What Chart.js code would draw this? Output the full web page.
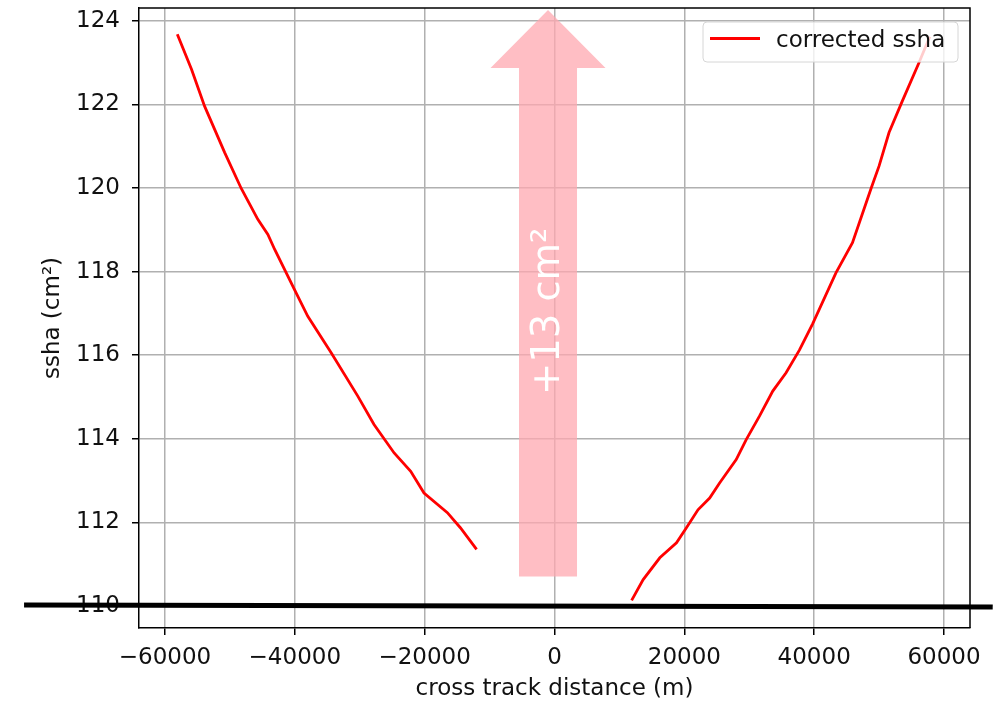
<!DOCTYPE html>
<html>
<head>
<meta charset="utf-8">
<title>corrected ssha</title>
<script src="https://cdn.jsdelivr.net/npm/chart.js@4"></script>
<style>
  html, body { margin: 0; padding: 0; background: #fff; }
  canvas { display: block; }
</style>
</head>
<body>
<canvas id="sshaChart" width="994" height="703"></canvas>
<script>
// left swath (negative cross track distance)
const leftDist = [-58100, -55900, -53900, -50800, -48250, -45700, -44150, -43100, -39800, -38000,
                  -34400, -30300, -27800, -24700, -22150, -20100, -16500, -14500, -12000];
const leftSsha = [123.68, 122.84, 121.96, 120.85, 119.99, 119.25, 118.89, 118.53, 117.49, 116.93,
                  116.06, 115.02, 114.34, 113.66, 113.22, 112.70, 112.23, 111.87, 111.35];

// right swath
const rightDist = [11880, 13660, 16220, 18790, 20320, 22100, 23900, 25430, 27990, 29530, 31570, 33620,
                   35670, 37720, 39760, 43350, 45900, 48720, 50000, 51530, 53570, 56140, 57800];
const rightSsha = [110.13, 110.63, 111.15, 111.51, 111.87, 112.30, 112.58, 112.94, 113.50, 113.98, 114.54, 115.14,
                   115.58, 116.12, 116.75, 117.97, 118.69, 119.97, 120.53, 121.33, 122.08, 123.00, 123.62];

const xTicks = [-60000, -40000, -20000, 0, 20000, 40000, 60000];
const yTicks = [110, 112, 114, 116, 118, 120, 122, 124];

// offset marker: arrow from the lowest value up to the highest one
const offsetX = -1000;
const offsetFrom = 110.7;
const offsetTo = 124.26;
const offsetText = '+13 cm²';
const offsetTextY = 117.05;

// reference level line (drawn across the whole figure)
const refLine = [{ x: -81700, y: 110.02 }, { x: 67500, y: 109.97 }];

const seriesLabel = 'corrected ssha';

const toPoints = (xs, ys) => xs.map((v, i) => ({ x: v, y: ys[i] }));

const FONT = 'DejaVu Sans';
const TEXT = '#111';

const overlay = {
    id: 'overlay',
    afterDatasetsDraw(chart) {
        const { ctx, chartArea: a, scales: { x, y } } = chart;

        // top and right spines
        ctx.save();
        ctx.strokeStyle = '#000';
        ctx.lineWidth = 1.5;
        ctx.beginPath();
        ctx.moveTo(a.left, a.top);
        ctx.lineTo(a.right, a.top);
        ctx.lineTo(a.right, a.bottom);
        ctx.stroke();
        ctx.restore();

        // pink arrow
        const cx = x.getPixelForValue(offsetX);
        const tipY = y.getPixelForValue(offsetTo);
        const baseY = y.getPixelForValue(offsetFrom);
        const shaft = 29, head = 57.5, headLen = 58;
        ctx.save();
        ctx.fillStyle = 'rgba(255, 168, 176, 0.75)';
        ctx.beginPath();
        ctx.moveTo(cx - shaft, baseY);
        ctx.lineTo(cx - shaft, tipY + headLen);
        ctx.lineTo(cx - head, tipY + headLen);
        ctx.lineTo(cx, tipY);
        ctx.lineTo(cx + head, tipY + headLen);
        ctx.lineTo(cx + shaft, tipY + headLen);
        ctx.lineTo(cx + shaft, baseY);
        ctx.closePath();
        ctx.fill();

        ctx.translate(cx + 1, y.getPixelForValue(offsetTextY));
        ctx.rotate(-Math.PI / 2);
        ctx.font = '38.5px "' + FONT + '"';
        ctx.fillStyle = '#fff';
        ctx.textAlign = 'center';
        ctx.textBaseline = 'middle';
        ctx.fillText(offsetText, 0, 0);
        ctx.restore();

        // legend box, upper right
        const bw = 255, bh = 40;
        const bx = a.right - 12 - bw, by = a.top + 14;
        ctx.save();
        ctx.beginPath();
        ctx.roundRect(bx, by, bw, bh, 4);
        ctx.fillStyle = 'rgba(255, 255, 255, 0.8)';
        ctx.fill();
        ctx.strokeStyle = '#d6d6d6';
        ctx.lineWidth = 1;
        ctx.stroke();
        ctx.strokeStyle = '#ff0000';
        ctx.lineWidth = 2.8;
        ctx.beginPath();
        ctx.moveTo(bx + 7, by + 16.5);
        ctx.lineTo(bx + 57, by + 16.5);
        ctx.stroke();
        ctx.fillStyle = TEXT;
        ctx.font = '23px "' + FONT + '"';
        ctx.textBaseline = 'alphabetic';
        ctx.fillText(seriesLabel, bx + 73, by + 24.5);
        ctx.restore();
    },
    afterDraw(chart) {
        const { ctx, scales: { x, y } } = chart;
        ctx.save();
        ctx.strokeStyle = '#000';
        ctx.lineWidth = 5;
        ctx.beginPath();
        ctx.moveTo(x.getPixelForValue(refLine[0].x), y.getPixelForValue(refLine[0].y));
        ctx.lineTo(x.getPixelForValue(refLine[1].x), y.getPixelForValue(refLine[1].y));
        ctx.stroke();
        ctx.restore();
    }
};

const lineStyle = {
    borderColor: '#ff0000',
    backgroundColor: '#ff0000',
    borderWidth: 2.8,
    pointRadius: 0,
    showLine: true,
    tension: 0
};

new Chart(document.getElementById('sshaChart'), {
    type: 'scatter',
    data: {
        datasets: [
            Object.assign({ label: seriesLabel, data: toPoints(leftDist, leftSsha) }, lineStyle),
            Object.assign({ label: seriesLabel, data: toPoints(rightDist, rightSsha) }, lineStyle)
        ]
    },
    options: {
        responsive: false,
        animation: false,
        layout: { padding: { top: 8, right: 24, left: 0, bottom: 0 } },
        plugins: { legend: { display: false }, tooltip: { enabled: false } },
        scales: {
            x: {
                type: 'linear',
                min: -64000,
                max: 64000,
                afterBuildTicks: s => { s.ticks = xTicks.map(v => ({ value: v })); },
                afterFit: s => { s.height = 75; s.paddingLeft = 0; s.paddingRight = 0; },
                grid: { color: '#b0b0b0', lineWidth: 1.5, tickColor: '#000', tickLength: 7 },
                border: { color: '#000', width: 1.5 },
                ticks: {
                    padding: 9,
                    color: TEXT,
                    font: { family: FONT, size: 23 },
                    callback: v => (v < 0 ? '\u2212' + Math.abs(v) : String(v))
                },
                title: {
                    display: true,
                    text: 'cross track distance (m)',
                    color: TEXT,
                    font: { family: FONT, size: 23 },
                    padding: { top: 0, bottom: 0 }
                }
            },
            y: {
                type: 'linear',
                min: 109.47,
                max: 124.31,
                afterBuildTicks: s => { s.ticks = yTicks.map(v => ({ value: v })); },
                afterFit: s => { s.width = 139; s.paddingTop = 0; s.paddingBottom = 0; },
                grid: { color: '#b0b0b0', lineWidth: 1.5, tickColor: '#000', tickLength: 7 },
                border: { color: '#000', width: 1.5 },
                ticks: {
                    padding: 12,
                    color: TEXT,
                    font: { family: FONT, size: 23 },
                    callback: v => String(v)
                },
                title: {
                    display: true,
                    text: 'ssha (cm²)',
                    color: TEXT,
                    font: { family: FONT, size: 23 },
                    padding: { top: 39, bottom: 0 }
                }
            }
        }
    },
    plugins: [overlay]
});
</script>
</body>
</html>
